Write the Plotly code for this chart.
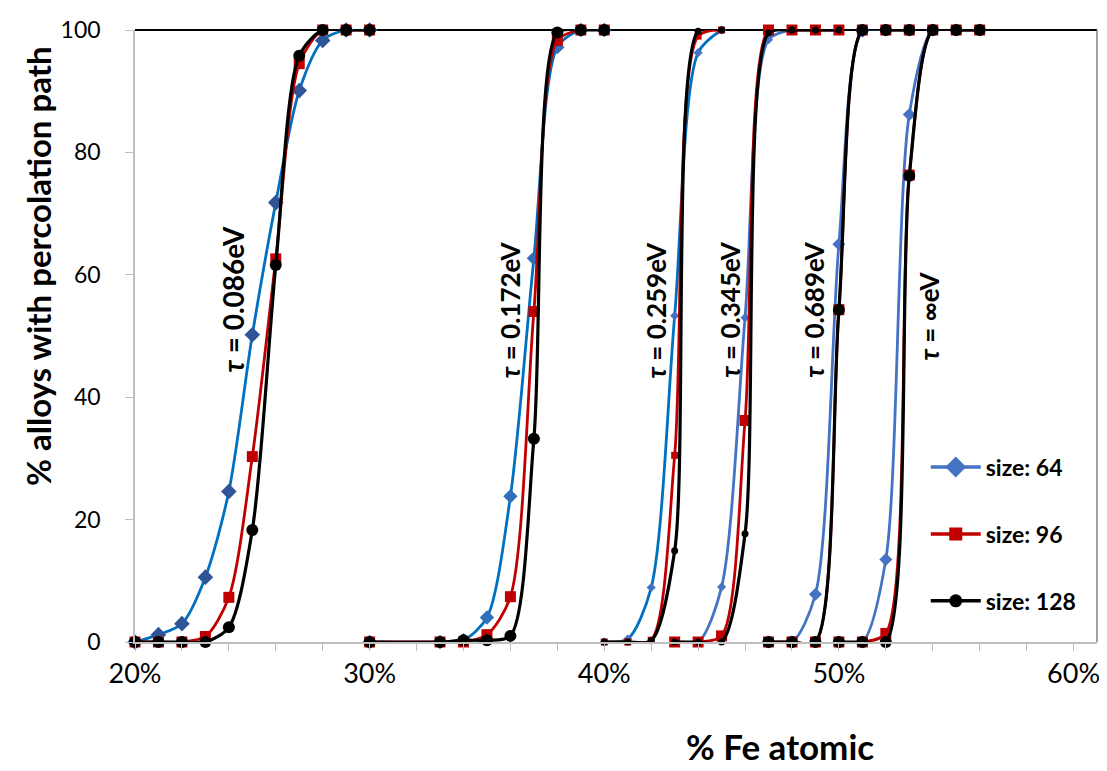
import plotly.graph_objects as go

# ---- data ----
x_g1 = [20, 21, 22, 23, 24, 25, 26, 27, 28, 29, 30]
s64_g1 = [0, 1.2, 3.0, 10.6, 24.6, 50.2, 71.8, 90.1, 98.3, 100, 100]
s96_g1 = [0, 0, 0, 0.9, 7.3, 30.3, 62.6, 94.5, 100, 100, 100]
s128_g1 = [0, 0, 0, 0, 2.4, 18.3, 61.6, 95.8, 100, 100, 100]

x_g2 = [30, 33, 34, 35, 36, 37, 38, 39, 40]
s64_g2 = [0, 0, 0.3, 4.0, 23.8, 62.7, 97.2, 100, 100]
s96_g2 = [0, 0, 0, 1.2, 7.4, 54.0, 98.3, 100, 100]
s128_g2 = [0, 0, 0.3, 0.3, 1.0, 33.2, 99.6, 100, 100]

x_g3 = [40, 41, 42, 43, 44, 45]
s64_g3 = [0, 0.5, 8.9, 53.3, 96.3, 100]
s96_g3 = [0, 0, 0.3, 30.5, 99.0, 100]
s128_g3 = [0, 0, 0.2, 14.9, 99.8, 100]

x_g4 = [43, 44, 45, 46, 47, 48, 49, 50]
s64_g4 = [0, 0, 9.0, 53.0, 98.4, 100, 100, 100]
s96_g4 = [0, 0, 1.0, 36.2, 100, 100, 100, 100]
s128_g4 = [0, 0, 0, 17.7, 99.5, 100, 100, 100]

x_g5 = [47, 48, 49, 50, 51, 52, 53]
s64_g5 = [0, 0, 7.8, 65.0, 99.8, 100, 100]
s96_g5 = [0, 0, 0, 54.3, 100, 100, 100]
s128_g5 = [0, 0, 0, 54.3, 100, 100, 100]

x_g6 = [50, 51, 52, 53, 54, 55, 56]
s64_g6 = [0, 0, 13.5, 86.2, 100, 100, 100]
s96_g6 = [0, 0, 1.4, 76.3, 100, 100, 100]
s128_g6 = [0, 0, 0, 76.2, 100, 100, 100]

tau_labels = ["0.086eV", "0.172eV", "0.259eV", "0.345eV", "0.689eV", "∞eV"]
tau_x = [24.17, 35.96, 42.2, 45.36, 48.94, 53.83]
tau_y = [56.1, 54.3, 54.3, 54.3, 54.3, 53.3]
tau_font = [28, 26, 26, 26, 26, 26]

series_names = ["size: 64", "size: 96", "size: 128"]
x_ticks = [20, 30, 40, 50, 60]
y_ticks = [0, 20, 40, 60, 80, 100]

# ---- styles ----
groups_x = [x_g1, x_g2, x_g3, x_g4, x_g5, x_g6]
groups_y = {
    "size: 64": [s64_g1, s64_g2, s64_g3, s64_g4, s64_g5, s64_g6],
    "size: 96": [s96_g1, s96_g2, s96_g3, s96_g4, s96_g5, s96_g6],
    "size: 128": [s128_g1, s128_g2, s128_g3, s128_g4, s128_g5, s128_g6],
}
blue_lines = ["#0070C0", "#0070C0", "#0070C0", "#4472C4", "#4472C4", "#4472C4"]
blue_marks = ["#2F5597", "#2F70B8", "#4472C4", "#4472C4", "#4472C4", "#4472C4"]
style = {
    "size: 64": dict(symbol="diamond", size=[12, 11, 7, 7, 10, 10], width=2.8,
                     legend_size=18, legend_color="#4472C4", legend_line="#4472C4"),
    "size: 96": dict(symbol="square", size=[11, 11, 7, 11, 11, 11], width=2.8,
                     legend_size=13, legend_color="#C00000", legend_line="#C00000"),
    "size: 128": dict(symbol="circle", size=[12, 12, 7, 7, 12, 12], width=3.2,
                      legend_size=13, legend_color="#000000", legend_line="#000000"),
}

fig = go.Figure()
for name in series_names:
    st = style[name]
    for gi, (xs, ys) in enumerate(zip(groups_x, groups_y[name])):
        if name == "size: 64":
            lc, mc = blue_lines[gi], blue_marks[gi]
        elif name == "size: 96":
            lc = mc = "#C00000"
        else:
            lc = mc = "#000000"
        fig.add_trace(go.Scatter(
            x=xs, y=ys, mode="lines+markers", name=name,
            legendgroup=name, showlegend=False,
            line=dict(color=lc, width=st["width"], shape="spline", smoothing=0.8),
            marker=dict(symbol=st["symbol"], size=st["size"][gi], color=mc),
            cliponaxis=False,
        ))
    # legend entry for this series (no data of its own)
    fig.add_trace(go.Scatter(
        x=[None], y=[None], mode="lines+markers", name=name, legendgroup=name,
        showlegend=True,
        line=dict(color=st["legend_line"], width=3.5),
        marker=dict(symbol=st["symbol"], size=st["legend_size"], color=st["legend_color"]),
    ))

for lab, tx, ty, fs in zip(tau_labels, tau_x, tau_y, tau_font):
    fig.add_annotation(x=tx, y=ty, xref="x", yref="y", text="<i>τ</i> = " + lab,
                       textangle=-90, showarrow=False, xanchor="center", yanchor="middle",
                       font=dict(family="Lato", size=fs, color="#000000", weight="bold"))

fig.add_annotation(x=0.67, y=-0.17, xref="paper", yref="paper", text="<b>% Fe atomic</b>",
                   showarrow=False, xanchor="center", yanchor="middle",
                   font=dict(family="Lato", size=35, color="#000000"))
fig.add_annotation(x=-0.101, y=0.614, xref="paper", yref="paper",
                   text="<b>% alloys with percolation path</b>", textangle=-90,
                   showarrow=False, xanchor="center", yanchor="middle",
                   font=dict(family="Lato", size=33, color="#000000"))

fig.add_shape(type="line", xref="paper", yref="paper", x0=0, x1=1, y0=1, y1=1,
              line=dict(color="#000000", width=2), layer="below")
fig.add_shape(type="line", xref="paper", yref="paper", x0=1, x1=1, y0=0, y1=1,
              line=dict(color="#808080", width=1.5), layer="below")

# page body has an 8px margin, so the figure is 8px smaller and margins compensate
fig.update_layout(
    width=1099, height=763,
    margin=dict(l=127, r=7, t=17, b=129),
    paper_bgcolor="white", plot_bgcolor="white",
    showlegend=True,
    legend=dict(x=0.822, y=0.321, xanchor="left", yanchor="top",
                font=dict(family="Lato", size=23, color="#000000", weight="bold"),
                tracegroupgap=34, itemsizing="trace", itemwidth=50,
                bgcolor="rgba(0,0,0,0)"),
    xaxis=dict(range=[20, 61], tickvals=x_ticks, ticktext=[f"{v}%" for v in x_ticks],
               showgrid=False, zeroline=False, showline=True, linecolor="#BFBFBF",
               linewidth=1.5, ticks="outside", ticklen=7, tickcolor="#BFBFBF",
               minor=dict(dtick=2, ticks="outside", ticklen=7, tickcolor="#BFBFBF"),
               tickfont=dict(family="Lato", size=27, color="#000000")),
    yaxis=dict(range=[0, 100], tickvals=y_ticks, showgrid=False, zeroline=False,
               showline=True, linecolor="#BFBFBF", linewidth=1.5, ticks="outside",
               ticklen=8, tickcolor="#BFBFBF", ticklabelstandoff=20,
               tickfont=dict(family="Lato", size=23, color="#000000")),
)

fig.write_html("out.html")
